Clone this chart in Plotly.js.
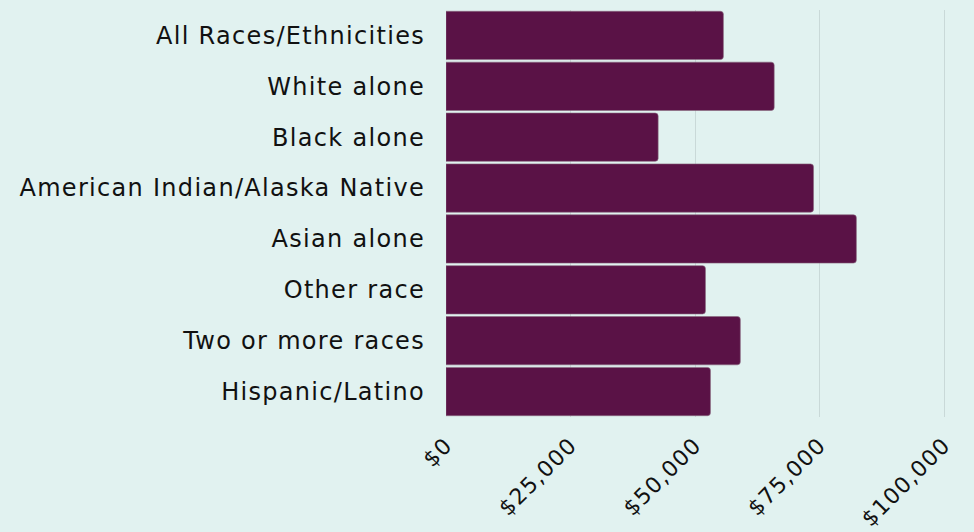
<!DOCTYPE html>
<html><head><meta charset="utf-8">
<script src="https://cdn.plot.ly/plotly-3.0.1.min.js"></script>
<style>
html,body{margin:0;padding:0;background:#e1f2f0;}
.ytick text{letter-spacing:1.3px;}
.xtick text{letter-spacing:1.2px;}
</style>
</head><body>
<div id="chart" style="width:974px;height:532px;"></div>
<script>
const categories = ["All Races/Ethnicities","White alone","Black alone","American Indian/Alaska Native","Asian alone","Other race","Two or more races","Hispanic/Latino"];
const incomes = [55700, 65900, 42600, 73800, 82400, 52100, 59100, 53100];
const tickValues = [0, 25000, 50000, 75000, 100000];
const tickLabels = ["$0","$25,000","$50,000","$75,000","$100,000"];

Plotly.newPlot("chart", [{
  type: "bar", orientation: "h",
  x: incomes, y: categories,
  marker: {color: "#5a1246", cornerradius: 3, line: {color: "#8a6a80", width: 0.6}},
  hoverinfo: "x+y"
}], {
  width: 974, height: 532,
  paper_bgcolor: "#e1f2f0", plot_bgcolor: "#e1f2f0",
  margin: {l: 446, r: 28, t: 10, b: 115},
  bargap: 0.05,
  font: {family: "DejaVu Sans", color: "#111"},
  xaxis: {range: [0, 100400], tickvals: tickValues, ticktext: tickLabels, tickangle: -45,
          showgrid: true, gridcolor: "#c9d9d8", gridwidth: 1, zeroline: false, showline: false,
          ticklabelstandoff: 10,
          tickfont: {size: 22, family: "DejaVu Sans", color: "#111"}, fixedrange: true},
  yaxis: {autorange: "reversed", showgrid: false, zeroline: false, showline: false,
          ticklabelstandoff: 20,
          tickfont: {size: 24, family: "DejaVu Sans", color: "#111"}, fixedrange: true},
  showlegend: false
}, {displayModeBar: false, staticPlot: true});
</script>
</body></html>
